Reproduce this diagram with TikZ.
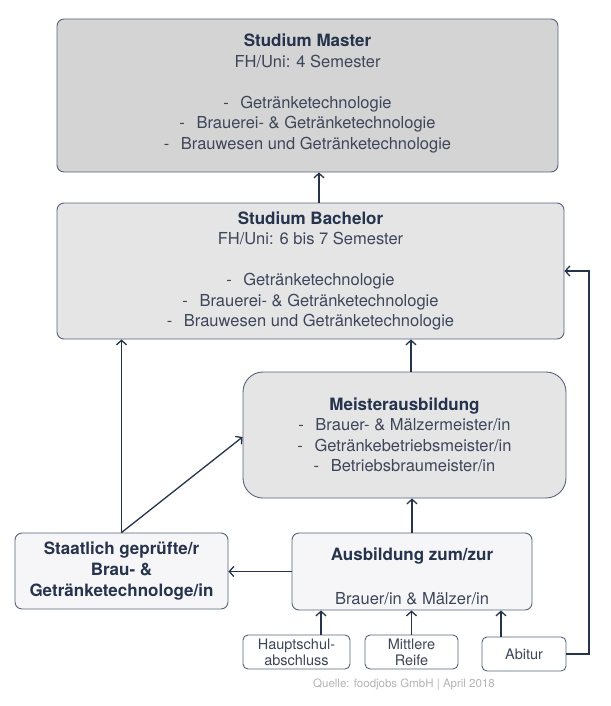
\documentclass[tikz,border=0pt]{standalone}
\usepackage{fontspec}
\setmainfont{TeX Gyre Heros}
\usetikzlibrary{arrows.meta, positioning}

\definecolor{navy}{HTML}{26334D}
\definecolor{txtgray}{HTML}{3E4659}
\definecolor{edgegray}{HTML}{56637A}
\definecolor{fillmaster}{HTML}{D4D4D4}
\definecolor{fillstudy}{HTML}{E5E5E6}
\definecolor{filltrain}{HTML}{F6F6F8}
\definecolor{srcgray}{HTML}{B4B4B4}

\newcommand{\lift}[1]{\rule[-#1]{0pt}{#1}}
\newcommand{\drop}[1]{\rule{0pt}{#1}}
\newcommand{\hd}[1]{{\fontsize{17}{20.5}\selectfont\bfseries\color{navy}#1}}
\newcommand{\itm}[1]{-\hspace{0.7em}#1}

\tikzset{
	box/.style={draw=edgegray, line width=0.9pt, rounded corners=7pt, align=center, text=txtgray, inner sep=0pt, font=\fontsize{16.5}{20.5}\selectfont},
	smallbox/.style={box, fill=white, rounded corners=5pt, font=\fontsize{14.5}{16}\selectfont},
	arr/.style={draw=navy, line width=1.3pt, -{Straight Barb[length=4.5pt, width=10pt, line width=1.3pt]}},
}

\begin{document}
\begin{tikzpicture}[x=1pt, y=-1pt]
	\useasboundingbox (0,0) rectangle (610,706);

	\node[box, fill=fillmaster, minimum width=501pt, minimum height=153pt] (master) at (307.5,95.5) {\hd{Studium Master}\\FH/Uni: 4 Semester\\[20.5pt]\itm{Getränketechnologie}\\\itm{Brauerei- \& Getränketechnologie}\\\itm{Brauwesen und Getränketechnologie}\lift{8pt}};
	\node[box, fill=fillstudy, minimum width=507pt, minimum height=136pt] (bachelor) at (310.5,271) {\hd{Studium Bachelor}\\FH/Uni: 6 bis 7 Semester\\[20.5pt]\itm{Getränketechnologie}\\\itm{Brauerei- \& Getränketechnologie}\\\itm{Brauwesen und Getränketechnologie}};
	\node[box, fill=fillstudy, rounded corners=20pt, minimum width=323pt, minimum height=126pt] (meister) at (404.5,435) {\hd{Meisterausbildung}\\\itm{Brauer- \& Mälzermeister/in}\\\itm{Getränkebetriebsmeister/in}\\\itm{Betriebsbraumeister/in}};
	\node[box, fill=filltrain, minimum width=213pt, minimum height=76pt, text=navy, font=\fontsize{17}{21}\selectfont\bfseries] (staatlich) at (121.5,571) {Staatlich geprüfte/r\\Brau- \&\\Getränketechnologe/in};
	\node[box, fill=filltrain, minimum width=240pt, minimum height=77pt] (ausbildung) at (412,571.5) {\drop{22pt}\hd{Ausbildung zum/zur}\\[23pt]Brauer/in \& Mälzer/in};

	\node[smallbox, minimum width=107pt, minimum height=34pt] (haupt) at (296.5,652) {Hauptschul-\\abschluss};
	\node[smallbox, minimum width=93pt, minimum height=34pt] (mittlere) at (411.5,652) {Mittlere\\Reife};
	\node[smallbox, minimum width=84pt, minimum height=34pt] (abitur) at (524,654) {Abitur};
	\node[text=srcgray, font=\fontsize{11.5}{13}\selectfont] (source) at (404,684) {Quelle: foodjobs GmbH | April 2018};
	\coordinate (rail) at (589,271);

	\draw[arr] ([xshift=8.5pt]bachelor.north) -- ([xshift=8.5pt]bachelor.north |- master.south);
	\draw[arr] ([xshift=6.5pt]meister.north) -- ([xshift=6.5pt]meister.north |- bachelor.south);
	\draw[arr] (staatlich.north) -- (staatlich.north |- bachelor.south);
	\draw[arr] (staatlich.north) -- ([yshift=-2pt]meister.west);
	\draw[arr] (ausbildung.north) -- (ausbildung.north |- meister.south);
	\draw[arr] (ausbildung.west) -- (ausbildung.west -| staatlich.east);
	\draw[arr] ([xshift=24.5pt]haupt.north) -- ([xshift=24.5pt]haupt.north |- ausbildung.south);
	\draw[arr] (mittlere.north) -- (mittlere.north |- ausbildung.south);
	\draw[arr] ([xshift=-23pt]abitur.north) -- ([xshift=-23pt]abitur.north |- ausbildung.south);
	\draw[arr] (abitur.east) -| (rail) -- (bachelor.east);
\end{tikzpicture}
\end{document}
